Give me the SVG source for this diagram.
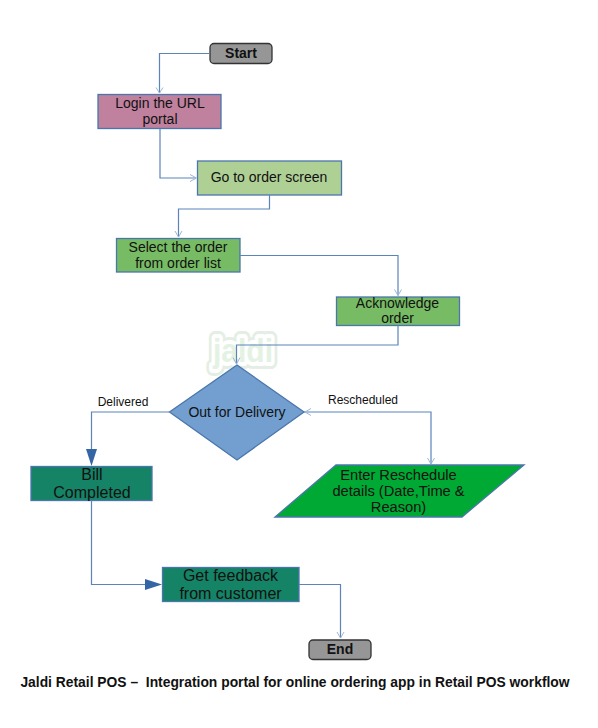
<svg xmlns="http://www.w3.org/2000/svg" width="598" height="728" viewBox="0 0 598 728">
<style>
text{font-family:"Liberation Sans",Arial,sans-serif;fill:#111;text-anchor:middle}
.t14{font-size:14px}
.t146{font-size:14.67px}
.t16{font-size:16px}
.t12{font-size:12px}
.b{font-size:14px;font-weight:bold}
.box{stroke:#4a76ad;stroke-width:1.3}
.term{fill:#969696;stroke:#333;stroke-width:1.3}
.c{fill:none;stroke:#5b84ba;stroke-width:1.2}
.o{fill:none;stroke:#9db6d6;stroke-width:1}
.f{fill:#3465a4;stroke:none}
.wm{font-size:34px;font-weight:bold;stroke-linejoin:round}
</style>
<rect width="598" height="728" fill="#fff"/>
<g id="watermark">
<text class="wm" x="243" y="362" textLength="60" lengthAdjust="spacingAndGlyphs" style="fill:#e4eee4;stroke:#e4eee4;stroke-width:14">jaldi</text>
<text class="wm" x="243" y="362" textLength="60" lengthAdjust="spacingAndGlyphs" style="fill:#fff;stroke:#fff;stroke-width:8">jaldi</text>
<text class="wm" x="243" y="362" textLength="60" lengthAdjust="spacingAndGlyphs" style="fill:#e4f2e4">jaldi</text>
</g>
<g id="n-start"><rect class="term" x="210" y="43.500" width="62" height="20" rx="4"/><text class="b" x="241" y="58">Start</text></g>
<g id="n-login"><rect class="box" x="98" y="94.500" width="123" height="34" fill="#bf819e"/><text class="t14" x="160" y="108">Login the URL</text><text class="t14" x="160" y="124">portal</text></g>
<g id="n-goto"><rect class="box" x="197.500" y="161" width="144" height="34" fill="#afd095"/><text class="t14" x="269" y="182">Go to order screen</text></g>
<g id="n-select"><rect class="box" x="116.500" y="238.500" width="123.500" height="33.500" fill="#77bc65"/><text class="t14" x="178" y="252">Select the order</text><text class="t14" x="178" y="268">from order list</text></g>
<g id="n-ack"><rect class="box" x="336.500" y="297" width="123" height="28.500" fill="#77bc65"/><text class="t14" x="397.500" y="308">Acknowledge</text><text class="t14" x="397.500" y="323">order</text></g>
<g id="n-decision"><polygon class="box" points="237,365 304,412 237,460 169.500,412" fill="#729fcf"/><text class="t14" x="237" y="417">Out for Delivery</text></g>
<g id="n-bill"><rect class="box" x="31" y="466.500" width="121" height="34" fill="#158466"/><text class="t16" x="92" y="480">Bill</text><text class="t16" x="92" y="497.500">Completed</text></g>
<g id="n-reschedule"><polygon class="box" points="336,465 524,465 462,517 275,517" fill="#00a933"/><text class="t146" x="398.500" y="480">Enter Reschedule</text><text class="t146" x="398.500" y="496">details (Date,Time &amp;</text><text class="t146" x="398.500" y="512">Reason)</text></g>
<g id="n-feedback"><rect class="box" x="162.500" y="567.500" width="136.500" height="34" fill="#158466"/><text class="t16" x="230.500" y="581">Get feedback</text><text class="t16" x="230.500" y="599">from customer</text></g>
<g id="n-end"><rect class="term" x="309" y="640" width="62" height="19.500" rx="4"/><text class="b" x="340" y="654">End</text></g>
<g id="connectors">
<path class="c" d="M210 53.500H159.500V93"/><path class="o" d="M156 87.500L159.500 93L163 87.500"/>
<path class="c" d="M160 128.500V178H196"/><path class="o" d="M190 174.500L196.500 178L190 181.500"/>
<path class="c" d="M269.500 195V209H178.500V237"/><path class="o" d="M175 231L178.500 237L182 231"/>
<path class="c" d="M240 255.500H398V295.500"/><path class="o" d="M394.500 289.500L398 295.500L401.500 289.500"/>
<path class="c" d="M398 325.500V345H236.500V364"/><path class="o" d="M233 357.500L236.500 364L240 357.500"/>
<path class="c" d="M169.500 412H91.500V450"/><polygon class="f" points="86,449 97,449 91.500,466"/>
<path class="c" d="M304 412H431V464"/><path class="o" d="M311 408.500L305 412L311 415.500"/><path class="o" d="M427.500 458L431 464L434.500 458"/>
<path class="c" d="M91.500 500.500V584.500H146"/><polygon class="f" points="145,579 145,590 162,584.500"/>
<path class="c" d="M299 584.500H340.500V638"/><path class="o" d="M337 632L340.500 638L344 632"/>
<text class="t12" x="123" y="406">Delivered</text>
<text class="t12" x="363" y="404">Rescheduled</text>
</g>
<text x="295" y="687" xml:space="preserve" style="font-size:13.85px;font-weight:bold">Jaldi Retail POS –  Integration portal for online ordering app in Retail POS workflow</text>
</svg>
